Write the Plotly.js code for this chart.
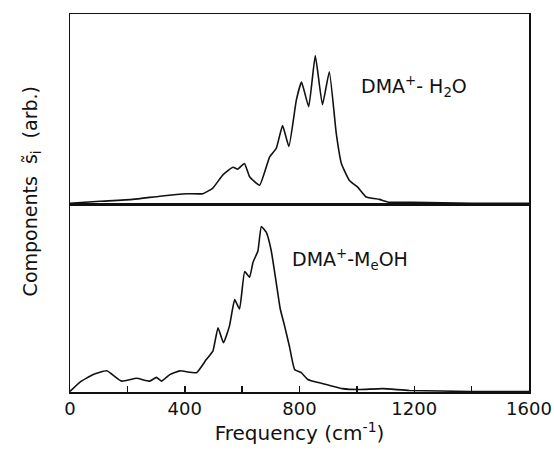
<!DOCTYPE html>
<html>
<head>
<meta charset="utf-8">
<script src="https://cdn.plot.ly/plotly-3.0.1.min.js"></script>
<style>html,body{margin:0;padding:0;background:#fff}</style>
</head>
<body>
<div id="chart" style="width:554px;height:459px"></div>
<script>
// DMA+-H2O spectrum (upper panel)
const freqH2O = [0, 104, 219, 313, 406, 463, 498, 533, 568, 585, 608, 626, 661, 696, 719, 741, 763, 789, 807, 832, 855, 880, 904, 928, 946, 974, 1002, 1032, 1078, 1113, 1193, 1400, 1600];
const compH2O = [0, 0.01, 0.02, 0.037, 0.05, 0.05, 0.08, 0.15, 0.19, 0.18, 0.21, 0.14, 0.095, 0.245, 0.29, 0.41, 0.30, 0.545, 0.64, 0.51, 0.78, 0.52, 0.695, 0.37, 0.21, 0.12, 0.086, 0.033, 0.02, 0.005, 0.005, 0, 0];

// DMA+-MeOH spectrum (lower panel)
const freqMeOH = [0, 35, 81, 128, 180, 232, 278, 301, 319, 348, 383, 441, 475, 498, 516, 535, 556, 574, 591, 609, 626, 638, 655, 667, 684, 701, 719, 733, 748, 765, 783, 806, 829, 858, 893, 950, 1008, 1089, 1183, 1400, 1600];
const compMeOH = [0, 0.05, 0.09, 0.11, 0.055, 0.07, 0.055, 0.075, 0.055, 0.09, 0.11, 0.10, 0.17, 0.215, 0.34, 0.26, 0.35, 0.49, 0.44, 0.64, 0.61, 0.69, 0.75, 0.88, 0.85, 0.755, 0.58, 0.44, 0.35, 0.24, 0.117, 0.10, 0.064, 0.05, 0.037, 0.015, 0.01, 0.015, 0.005, 0, 0];

// x ticks every 200, labels every 400
const tickVals = [0, 200, 400, 600, 800, 1000, 1200, 1400, 1600];
const tickText = ['0', '', '400', '', '800', '', '1200', '', '1600'];

const lineStyle = {color: '#111', width: 1.6, shape: 'spline', smoothing: 0.4};
const font = 'DejaVu Sans, sans-serif';

const traces = [
    {x: freqH2O, y: compH2O, xaxis: 'x2', yaxis: 'y2', mode: 'lines', line: lineStyle, hoverinfo: 'skip'},
    {x: freqMeOH, y: compMeOH, xaxis: 'x', yaxis: 'y', mode: 'lines', line: lineStyle, hoverinfo: 'skip'}
];

const frame = {showline: true, mirror: true, linecolor: '#111', linewidth: 1.5, showgrid: false, zeroline: false};

const layout = {
    width: 554, height: 459,
    margin: {l: 70, r: 25, t: 14, b: 67},
    paper_bgcolor: '#fff', plot_bgcolor: '#fff',
    showlegend: false,
    font: {family: font, color: '#111', size: 18},
    xaxis: Object.assign({}, frame, {
        range: [0, 1600], tickvals: tickVals, ticktext: tickText, ticks: 'inside', ticklen: 6, tickcolor: '#111', tickwidth: 1.5,
        tickfont: {size: 18}, automargin: false,
        title: {text: 'Frequency (cm<sup>-1</sup>)', font: {size: 20}, standoff: 0}
    }),
    yaxis: Object.assign({}, frame, {domain: [0, 0.497], range: [-0.003, 1], showticklabels: false, ticks: ''}),
    xaxis2: Object.assign({}, frame, {range: [0, 1600], anchor: 'y2', showticklabels: false, ticks: ''}),
    yaxis2: Object.assign({}, frame, {domain: [0.497, 1], range: [-0.005, 1], showticklabels: false, ticks: ''}),
    annotations: [
        {xref: 'paper', yref: 'paper', x: 0.87, y: 0.85, text: 'DMA<sup>+</sup>- H<sub>2</sub>O', showarrow: false, font: {size: 19}},
        {xref: 'paper', yref: 'paper', x: 0.74, y: 0.35, text: 'DMA<sup>+</sup>-M<sub>e</sub>OH', showarrow: false, font: {size: 19}},
        {xref: 'paper', yref: 'paper', x: -0.115, y: 0.53, textangle: -90, text: 'Components  s̃<sub>i</sub>  (arb.)', showarrow: false, font: {size: 19}}
    ]
};

Plotly.newPlot('chart', traces, layout, {displayModeBar: false, staticPlot: true});
</script>
</body>
</html>
